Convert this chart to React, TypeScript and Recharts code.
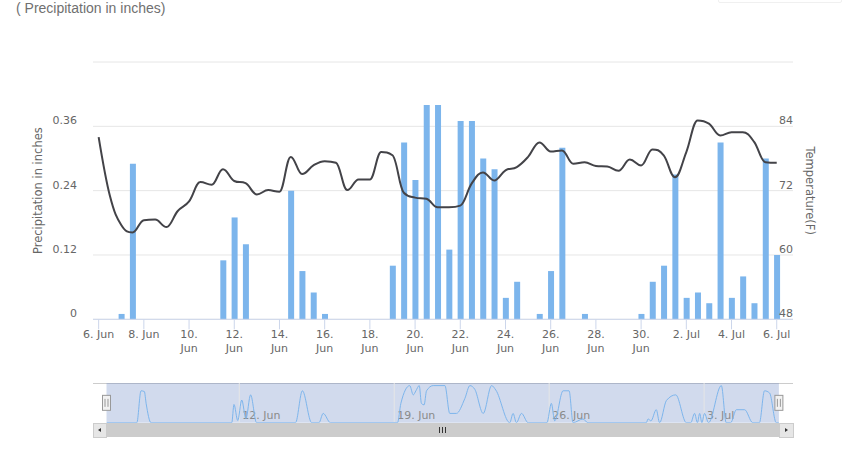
import React from 'react';
import {
  ComposedChart,
  Bar,
  Line,
  XAxis,
  YAxis,
  CartesianGrid,
  ReferenceArea,
  ReferenceLine,
} from 'recharts';

// ---- data (12-hour steps, day offsets from 6 Jun) ----
const days = [
  0, 0.5, 1, 1.5, 2, 2.5, 3, 3.5, 4, 4.5,
  5, 5.5, 6, 6.5, 7, 7.5, 8, 8.5, 9, 9.5,
  10, 10.5, 11, 11.5, 12, 12.5, 13, 13.5, 14, 14.5,
  15, 15.5, 16, 16.5, 17, 17.5, 18, 18.5, 19, 19.5,
  20, 20.5, 21, 21.5, 22, 22.5, 23, 23.5, 24, 24.5,
  25, 25.5, 26, 26.5, 27, 27.5, 28, 28.5, 29, 29.5,
  30,
];

const precipitation = [
  0, 0, 0.01, 0.29, 0, 0, 0, 0, 0, 0,
  0, 0.11, 0.19, 0.14, 0, 0, 0, 0.24, 0.09, 0.05,
  0.01, 0, 0, 0, 0, 0, 0.10, 0.33, 0.26, 0.40,
  0.40, 0.13, 0.37, 0.37, 0.30, 0.28, 0.04, 0.07, 0, 0.01,
  0.09, 0.32, 0, 0.01, 0, 0, 0, 0, 0.01, 0.07,
  0.10, 0.27, 0.04, 0.05, 0.03, 0.33, 0.04, 0.08, 0.03, 0.30,
  0.12,
];

const temperature = [
  82.0, 71.0, 65.6, 64.2, 66.5, 66.6, 65.2, 68.2, 70.0, 73.6,
  73.1, 76.0, 73.8, 73.4, 71.3, 72.1, 71.8, 78.3, 75.1, 76.7,
  77.5, 77.2, 72.1, 74.1, 74.1, 79.2, 78.6, 71.6, 70.7, 70.5,
  68.9, 68.9, 69.2, 73.3, 75.4, 73.9, 75.8, 76.4, 78.3, 81.0,
  79.3, 79.5, 77.0, 77.3, 76.6, 76.5, 75.7, 77.8, 76.7, 79.7,
  78.6, 74.5, 79.2, 85.1, 84.5, 82.3, 82.9, 82.9, 81.1, 77.3,
  77.2,
];

// navigator series (finer, ungrouped precipitation, relative level read from the navigator)
const navDays = [
  0, 1.37, 1.56, 1.71, 1.79, 2.01,
  5.66, 5.76, 5.93, 6.11, 6.3, 6.51, 6.78,
  8.54, 8.85, 9.27, 9.6, 9.79, 10.12,
  13.15, 13.3, 13.7, 13.86, 13.98, 14.13, 14.23, 14.35, 14.46, 14.76, 15.29, 15.51, 15.81,
  16.19, 16.42, 16.64, 17.02, 17.4, 17.59, 18.22, 18.37, 18.52, 18.75, 19.05,
  19.9, 20.1, 20.25, 20.63, 20.9, 21.08, 21.53, 21.75,
  24.39, 24.47, 24.6, 24.84, 24.99, 25.3, 25.72, 26.2, 26.4, 26.57, 26.7, 26.8, 26.9, 27.02, 27.2,
  27.78, 28.0, 28.2, 28.46, 28.83, 29.2, 29.5, 29.73, 29.96, 30.26, 30.38,
];
const navLevels = [
  0, 0, 0.86, 0.84, 0.52, 0,
  0, 0.49, 0.06, 0.61, 0.11, 0.75, 0,
  0, 0.86, 0, 0, 0.25, 0,
  0, 0.52, 1.0, 0.75, 0.86, 1.0, 0.52, 0.48, 0.86, 1.0, 1.0, 0.25, 0.25,
  0.65, 1.0, 0.9, 0.25, 1.0, 0.88, 0, 0.25, 0, 0.25, 0,
  0, 0.52, 0.05, 0.86, 0.86, 0, 0.1, 0,
  0, 0.1, 0.05, 0.35, 0, 0.6, 0.75, 0, 0, 0.25, 0, 0.25, 0, 0.25, 0,
  1.0, 0, 0, 0.35, 0.35, 0, 0, 0.86, 0.8, 0, 0,
];

const xTicks = [0, 2, 4, 6, 8, 10, 12, 14, 16, 18, 20, 22, 24, 26, 28, 30];
const xTickLabels = [
  '6. Jun', '8. Jun', '10. Jun', '12. Jun', '14. Jun', '16. Jun', '18. Jun', '20. Jun',
  '22. Jun', '24. Jun', '26. Jun', '28. Jun', '30. Jun', '2. Jul', '4. Jul', '6. Jul',
];

const precipTicks = [0, 0.12, 0.24, 0.36, 0.48];
const precipTickLabels = ['0', '0.12', '0.24', '0.36', ''];
const tempTicks = [48, 60, 72, 84, 96];
const tempTickLabels = ['48', '60', '72', '84', ''];

const navTicks = [6, 13, 20, 27];
const navTickLabels = ['12. Jun', '19. Jun', '26. Jun', '3. Jul'];
const navRange = [0, 30.38];

const chartData = days.map((d, i) => ({
  day: d,
  precip: precipitation[i],
  temp: temperature[i],
}));

const navData = navDays.map((d, i) => ({ day: d, level: navLevels[i] }));

// ---- styles ----
const FONT = '"DejaVu Sans", Verdana, sans-serif';
const LABEL = '#666666';
const AXIS_LINE = '#ccd6eb';

// Highcharts-like spline curve
function hcSpline(context: any) {
  let pts: number[][] = [];
  return {
    areaStart() {},
    areaEnd() {},
    lineStart() {
      pts = [];
    },
    point(x: number, y: number) {
      pts.push([+x, +y]);
    },
    lineEnd() {
      const n = pts.length;
      if (!n) return;
      const rc: (number[] | undefined)[] = [];
      context.moveTo(pts[0][0], pts[0][1]);
      for (let i = 1; i < n; i++) {
        const px = pts[i][0];
        const py = pts[i][1];
        const last = pts[i - 1];
        const next = pts[i + 1];
        let lcx = px;
        let lcy = py;
        if (next) {
          const s = 1.5;
          const d = 2.5;
          lcx = (s * px + last[0]) / d;
          lcy = (s * py + last[1]) / d;
          const rcx = (s * px + next[0]) / d;
          let rcy = (s * py + next[1]) / d;
          let corr = 0;
          if (rcx !== lcx) corr = ((rcy - lcy) * (rcx - px)) / (rcx - lcx) + py - rcy;
          lcy += corr;
          rcy += corr;
          if (lcy > last[1] && lcy > py) {
            lcy = Math.max(last[1], py);
            rcy = 2 * py - lcy;
          } else if (lcy < last[1] && lcy < py) {
            lcy = Math.min(last[1], py);
            rcy = 2 * py - lcy;
          }
          if (rcy > next[1] && rcy > py) {
            rcy = Math.max(next[1], py);
            lcy = 2 * py - rcy;
          } else if (rcy < next[1] && rcy < py) {
            rcy = Math.min(next[1], py);
            lcy = 2 * py - rcy;
          }
          rc[i] = [rcx, rcy];
        }
        const pc = rc[i - 1] || last;
        context.bezierCurveTo(pc[0], pc[1], lcx, lcy, px, py);
      }
    },
  };
}

const XTick = (props: any) => {
  const { x, y, payload } = props;
  const idx = xTicks.indexOf(payload.value);
  const label = idx >= 0 ? xTickLabels[idx] : '';
  const parts = label.length > 6 ? label.split(' ') : [label];
  return (
    <g>
      {parts.map((p, i) => (
        <text
          key={i}
          x={x}
          y={y + 9 + i * 14}
          textAnchor="middle"
          fill={LABEL}
          fontSize={11}
          fontFamily={FONT}
        >
          {p}
        </text>
      ))}
    </g>
  );
};

const LeftTick = (props: any) => {
  const { y, payload } = props;
  const idx = precipTicks.indexOf(payload.value);
  const label = idx >= 0 ? precipTickLabels[idx] : '';
  if (!label) return <g />;
  return (
    <text x={77} y={y - 2} textAnchor="end" fill={LABEL} fontSize={11} fontFamily={FONT}>
      {label}
    </text>
  );
};

const RightTick = (props: any) => {
  const { y, payload } = props;
  const idx = tempTicks.indexOf(payload.value);
  const label = idx >= 0 ? tempTickLabels[idx] : '';
  if (!label) return <g />;
  return (
    <text x={793} y={y - 2} textAnchor="end" fill={LABEL} fontSize={11} fontFamily={FONT}>
      {label}
    </text>
  );
};

const NavLabel = (text: string) => (props: any) => {
  const vb = props.viewBox || {};
  return (
    <text
      x={(vb.x || 0) + 3}
      y={(vb.y || 0) + (vb.height || 0) - 4}
      fill="#8a8a8a"
      fontSize={11}
      fontFamily={FONT}
    >
      {text}
    </text>
  );
};

const Handle = (props: any) => {
  const vb = props.viewBox || {};
  const cx = vb.x || 0;
  const mid = (vb.y || 0) + (vb.height || 0) / 2;
  return (
    <g>
      <rect x={cx - 4} y={mid - 7.5} width={8} height={15} fill="#f2f2f2" stroke="#999999" strokeWidth={1} />
      <line x1={cx - 1.5} x2={cx - 1.5} y1={mid - 4} y2={mid + 4} stroke="#999999" strokeWidth={1} />
      <line x1={cx + 1.5} x2={cx + 1.5} y1={mid - 4} y2={mid + 4} stroke="#999999" strokeWidth={1} />
    </g>
  );
};

export default function App() {
  return (
    <div
      style={{
        position: 'absolute',
        left: 0,
        top: 0,
        width: 848,
        height: 468,
        background: '#ffffff',
        overflow: 'hidden',
      }}
    >
      <div
        style={{
          position: 'absolute',
          left: 16,
          top: 0,
          fontFamily: '"Liberation Sans", Arial, sans-serif',
          fontSize: 14,
          lineHeight: '16px',
          color: '#707070',
          whiteSpace: 'nowrap',
        }}
      >
        ( Precipitation in inches)
      </div>
      <div
        style={{
          position: 'absolute',
          left: 718,
          top: -12,
          width: 122,
          height: 13,
          border: '1px solid #f0f0f0',
          borderRadius: 2,
        }}
      />

      <div style={{ position: 'absolute', left: 0, top: 0 }}>
        <ComposedChart
          width={848}
          height={370}
          data={chartData}
          margin={{ top: 62, right: 0, bottom: 0, left: 0 }}
        >
          <CartesianGrid horizontal vertical={false} stroke="#e6e6e6" yAxisId="left" />
          <XAxis
            dataKey="day"
            type="number"
            domain={[-0.25, 30.72]}
            ticks={xTicks}
            interval={0}
            allowDataOverflow
            height={50.7}
            tickSize={10}
            tickMargin={0}
            tickLine={{ stroke: AXIS_LINE }}
            axisLine={{ stroke: AXIS_LINE }}
            tick={<XTick />}
          />
          <YAxis
            yAxisId="left"
            orientation="left"
            width={93}
            domain={[0, 0.48]}
            ticks={precipTicks}
            interval={0}
            axisLine={false}
            tickLine={false}
            tickSize={0}
            tickMargin={0}
            tick={<LeftTick />}
            label={{
              value: 'Precipitation in inches',
              angle: -90,
              position: 'center',
              dx: -8.5,
              fill: LABEL,
              fontSize: 11.5,
              fontFamily: FONT,
            }}
          />
          <YAxis
            yAxisId="right"
            orientation="right"
            width={55}
            domain={[48, 96]}
            ticks={tempTicks}
            interval={0}
            axisLine={false}
            tickLine={false}
            tickSize={0}
            tickMargin={0}
            tick={<RightTick />}
            label={{
              value: 'Temperature(F)',
              angle: 90,
              position: 'center',
              dx: -10.5,
              fill: LABEL,
              fontSize: 11.5,
              fontFamily: FONT,
            }}
          />
          <Bar
            yAxisId="left"
            dataKey="precip"
            fill="#7cb5ec"
            barSize={6}
            isAnimationActive={false}
          />
          <Line
            yAxisId="right"
            dataKey="temp"
            type={hcSpline as any}
            stroke="#434348"
            strokeWidth={2}
            dot={false}
            activeDot={false}
            isAnimationActive={false}
          />
        </ComposedChart>
      </div>

      {/* navigator */}
      <div
        style={{
          position: 'absolute',
          left: 93,
          top: 383,
          width: 700,
          height: 0,
          borderTop: '1px solid #cccccc',
        }}
      />
      <div style={{ position: 'absolute', left: 0, top: 383 }}>
        <ComposedChart
          width={848}
          height={39.7}
          data={navData}
          margin={{ top: 0, right: 69, bottom: 0, left: 106.4 }}
        >
          <XAxis dataKey="day" type="number" domain={navRange} hide allowDataOverflow />
          <YAxis domain={[0, 1.07]} hide allowDataOverflow />
          {navTicks.map((t, i) => (
            <ReferenceLine
              key={'g' + i}
              x={t}
              stroke="#e6e6e6"
              strokeWidth={1}
              label={NavLabel(navTickLabels[i])}
            />
          ))}
          <Line
            dataKey="level"
            type="monotone"
            stroke="#7cb5ec"
            strokeWidth={1}
            dot={false}
            activeDot={false}
            isAnimationActive={false}
          />
          <ReferenceArea
            x1={navRange[0]}
            x2={navRange[1]}
            fill="rgb(102,133,194)"
            fillOpacity={0.3}
            stroke="none"
          />
          <ReferenceLine x={navRange[0]} stroke="none" label={Handle} />
          <ReferenceLine x={navRange[1]} stroke="none" label={Handle} />
        </ComposedChart>
      </div>

      {/* scrollbar */}
      <div style={{ position: 'absolute', left: 93, top: 423, width: 700, height: 14, background: '#f2f2f2' }} />
      <div style={{ position: 'absolute', left: 106, top: 423, width: 673, height: 14, background: '#cccccc' }} />
      <div
        style={{
          position: 'absolute',
          left: 93,
          top: 423,
          width: 12,
          height: 13,
          background: '#e6e6e6',
          border: '1px solid #cccccc',
        }}
      >
        <div
          style={{
            position: 'absolute',
            left: 4,
            top: 4,
            width: 0,
            height: 0,
            borderTop: '2.5px solid transparent',
            borderBottom: '2.5px solid transparent',
            borderRight: '3px solid #333333',
          }}
        />
      </div>
      <div
        style={{
          position: 'absolute',
          left: 779,
          top: 423,
          width: 13,
          height: 13,
          background: '#e6e6e6',
          border: '1px solid #cccccc',
        }}
      >
        <div
          style={{
            position: 'absolute',
            left: 5,
            top: 4,
            width: 0,
            height: 0,
            borderTop: '2.5px solid transparent',
            borderBottom: '2.5px solid transparent',
            borderLeft: '3px solid #333333',
          }}
        />
      </div>
      {[-3, 0, 3].map((o) => (
        <div
          key={o}
          style={{
            position: 'absolute',
            left: 442 + o,
            top: 427,
            width: 1,
            height: 6,
            background: '#333333',
          }}
        />
      ))}
    </div>
  );
}
